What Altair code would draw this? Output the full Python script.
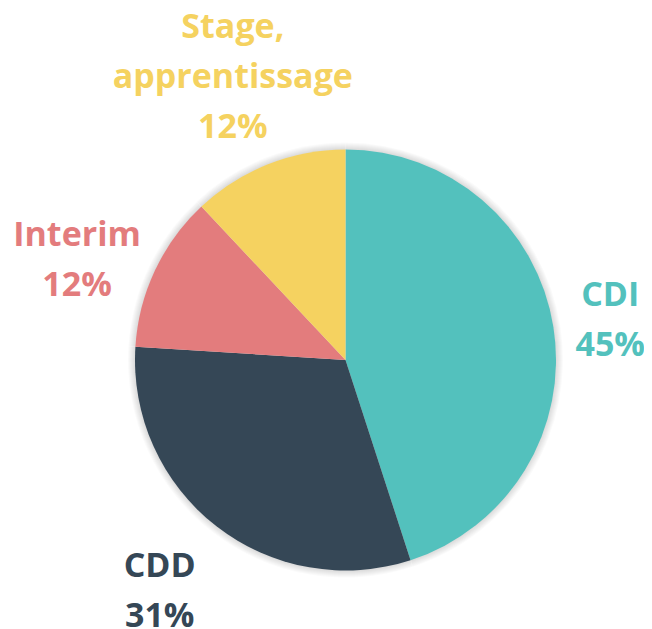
import altair as alt
import pandas as pd

categories = ["CDI", "CDD", "Interim", "Stage, apprentissage"]
shares = [45, 31, 12, 12]
label_lines = [["CDI", "45%"], ["CDD", "31%"], ["Interim", "12%"], ["Stage,", "apprentissage", "12%"]]
colors = ["#53C1BD", "#354756", "#E37C7D", "#F5D260"]

df = pd.DataFrame({
    "cat": categories,
    "share": shares,
    "idx": list(range(len(categories))),
    "label": label_lines,
})

R = 210.5
color_scale = alt.Scale(domain=categories, range=colors)

base = alt.Chart(df).encode(
    theta=alt.Theta("share:Q", stack=True),
    order=alt.Order("idx:Q"),
)

# soft shadow rings
shadow_layers = [
    base.mark_arc(radius=R + k, color="#000000", opacity=0.02)
    for k in range(1, 8)
]

pie = base.mark_arc(radius=R).encode(
    color=alt.Color("cat:N", scale=color_scale, legend=None)
)

# label placement (layout settings per slice: radius, dx, dy)
label_layout = {
    "CDI": (268, 0, -22),
    "CDD": (295, -5, -26),
    "Interim": (290, -6, -1),
    "Stage, apprentissage": (306, 0, -47),
}

label_base = alt.Chart(df).transform_stack(
    stack="share", groupby=[], as_=["s0", "s1"],
    sort=[alt.SortField("idx", order="ascending")],
).transform_calculate(
    mid="(datum.s0 + datum.s1) / 2"
)

text_layers = []
for cat, (r, dx, dy) in label_layout.items():
    text_layers.append(
        label_base.mark_text(
            radius=r, dx=dx, dy=dy,
            font="Open Sans", fontWeight="bold", fontSize=34,
            lineHeight=50, align="center", baseline="middle",
        ).encode(
            theta=alt.Theta("mid:Q", scale=alt.Scale(domain=[0, 100])),
            text="label",
            color=alt.Color("cat:N", scale=color_scale, legend=None),
        ).transform_filter(alt.datum.cat == cat)
    )

chart = alt.layer(*shadow_layers, pie, *text_layers).resolve_scale(
    theta="independent"
).properties(
    width=560,
    height=520,
    padding={"left": 57.5, "top": 92, "right": 18.5, "bottom": 7},
    autosize=alt.AutoSizeParams(type="none"),
).configure_view(stroke=None)

chart.save("out.html", embed_options={"renderer": "svg", "actions": False})
